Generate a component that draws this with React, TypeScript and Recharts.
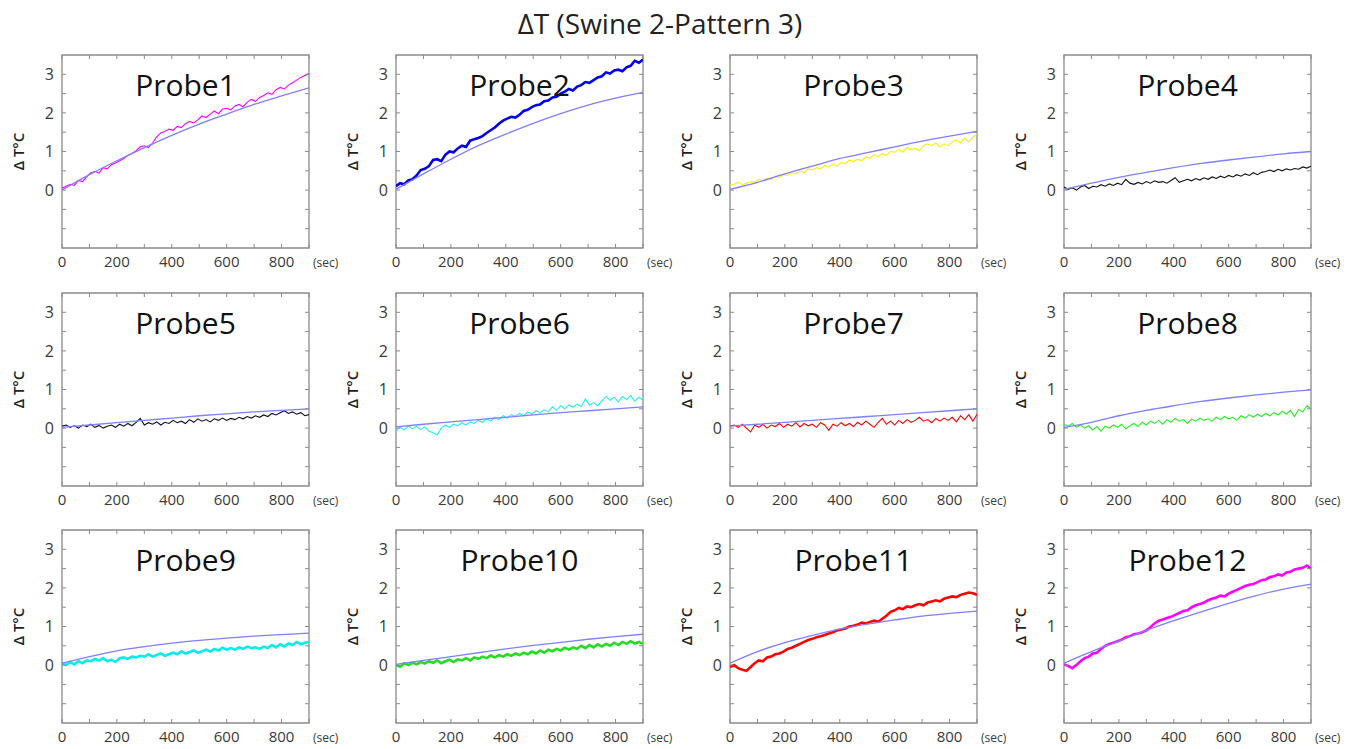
import React from 'react';
import { LineChart, Line, XAxis, YAxis, ReferenceArea } from 'recharts';

// time axis (sec)
const TIME = [0, 15, 30, 45, 60, 75, 90, 105, 120, 135, 150, 165, 180, 195, 210, 225, 240, 255, 270, 285, 300, 315, 330, 345, 360, 375, 390, 405, 420, 435, 450, 465, 480, 495, 510, 525, 540, 555, 570, 585, 600, 615, 630, 645, 660, 675, 690, 705, 720, 735, 750, 765, 780, 795, 810, 825, 840, 855, 870, 885, 900];
const FIT_TIME = [0, 100, 200, 300, 400, 500, 600, 700, 800, 900];

const X_TICKS = [0, 100, 200, 300, 400, 500, 600, 700, 800, 900];
const Y_TICKS = [-1, -0.5, 0, 0.5, 1, 1.5, 2, 2.5, 3];

// measured ΔT per probe
const P1 = [0.05, 0.10, 0.15, 0.12, 0.25, 0.22, 0.35, 0.45, 0.48, 0.44, 0.58, 0.55, 0.66, 0.70, 0.76, 0.82, 0.90, 0.95, 1.02, 1.12, 1.15, 1.10, 1.22, 1.38, 1.48, 1.52, 1.58, 1.55, 1.65, 1.62, 1.72, 1.78, 1.74, 1.82, 1.92, 1.88, 1.97, 2.05, 1.98, 2.10, 2.12, 2.08, 2.18, 2.22, 2.16, 2.28, 2.35, 2.30, 2.40, 2.45, 2.52, 2.48, 2.60, 2.66, 2.62, 2.72, 2.78, 2.85, 2.92, 2.97, 3.02];
const P2 = [0.10, 0.18, 0.15, 0.25, 0.28, 0.38, 0.52, 0.55, 0.62, 0.78, 0.80, 0.75, 0.92, 1.00, 0.98, 1.08, 1.15, 1.12, 1.28, 1.32, 1.35, 1.40, 1.48, 1.55, 1.62, 1.72, 1.80, 1.85, 1.90, 1.88, 1.95, 2.05, 2.08, 2.15, 2.20, 2.22, 2.30, 2.32, 2.40, 2.42, 2.50, 2.55, 2.62, 2.58, 2.68, 2.72, 2.80, 2.78, 2.85, 2.92, 2.95, 3.05, 3.02, 3.10, 3.12, 3.08, 3.18, 3.22, 3.35, 3.30, 3.38];
const P3 = [0.12, 0.15, 0.20, 0.14, 0.18, 0.22, 0.20, 0.28, 0.24, 0.30, 0.28, 0.36, 0.33, 0.40, 0.38, 0.46, 0.42, 0.50, 0.45, 0.55, 0.52, 0.58, 0.55, 0.64, 0.60, 0.68, 0.62, 0.72, 0.68, 0.78, 0.74, 0.80, 0.76, 0.86, 0.82, 0.92, 0.86, 0.95, 0.90, 1.00, 0.98, 1.05, 0.98, 1.10, 1.05, 1.08, 1.02, 1.15, 1.20, 1.15, 1.22, 1.12, 1.20, 1.15, 1.25, 1.30, 1.22, 1.35, 1.25, 1.38, 1.45];
const P4 = [0.08, 0.02, 0.06, 0.00, 0.08, 0.12, 0.04, 0.10, 0.08, 0.14, 0.10, 0.16, 0.12, 0.18, 0.14, 0.28, 0.18, 0.15, 0.20, 0.16, 0.22, 0.18, 0.24, 0.20, 0.22, 0.18, 0.25, 0.32, 0.20, 0.24, 0.28, 0.24, 0.30, 0.26, 0.32, 0.28, 0.34, 0.30, 0.36, 0.32, 0.38, 0.34, 0.40, 0.36, 0.42, 0.38, 0.45, 0.40, 0.46, 0.48, 0.52, 0.48, 0.54, 0.50, 0.55, 0.52, 0.56, 0.54, 0.60, 0.57, 0.62];
const P5 = [0.05, 0.08, 0.02, 0.06, 0.00, 0.08, 0.04, 0.10, 0.02, 0.07, 0.00, 0.05, 0.08, 0.02, 0.10, 0.05, 0.12, 0.06, 0.15, 0.25, 0.08, 0.14, 0.10, 0.16, 0.08, 0.15, 0.12, 0.20, 0.14, 0.18, 0.12, 0.22, 0.15, 0.24, 0.18, 0.22, 0.16, 0.24, 0.20, 0.26, 0.20, 0.25, 0.22, 0.28, 0.24, 0.30, 0.26, 0.32, 0.28, 0.34, 0.30, 0.38, 0.34, 0.40, 0.45, 0.38, 0.42, 0.36, 0.40, 0.32, 0.35];
const P6 = [-0.08, 0.02, -0.05, 0.06, -0.02, 0.05, -0.04, 0.03, -0.08, -0.12, -0.18, 0.00, 0.08, 0.02, 0.10, 0.06, 0.14, 0.08, 0.16, 0.12, 0.20, 0.15, 0.24, 0.18, 0.28, 0.22, 0.32, 0.26, 0.35, 0.30, 0.38, 0.32, 0.42, 0.36, 0.45, 0.40, 0.48, 0.42, 0.55, 0.46, 0.58, 0.50, 0.60, 0.54, 0.62, 0.56, 0.75, 0.60, 0.66, 0.58, 0.70, 0.82, 0.72, 0.80, 0.68, 0.82, 0.74, 0.84, 0.70, 0.80, 0.72];
const P7 = [0.05, 0.08, 0.02, 0.10, 0.00, -0.10, 0.08, 0.02, 0.10, 0.00, 0.08, 0.04, 0.12, 0.02, 0.10, 0.05, 0.14, 0.03, 0.12, 0.06, 0.10, 0.02, 0.14, 0.08, -0.06, 0.10, 0.05, 0.14, 0.06, 0.12, 0.04, 0.15, 0.08, 0.18, 0.10, 0.02, 0.15, 0.25, 0.10, 0.18, 0.08, 0.20, 0.12, 0.22, 0.15, 0.20, 0.28, 0.18, 0.22, 0.14, 0.25, 0.18, 0.26, 0.20, 0.28, 0.16, 0.32, 0.22, 0.35, 0.18, 0.36];
const P8 = [0.10, 0.05, 0.12, 0.02, 0.08, 0.00, 0.06, -0.05, 0.04, -0.08, 0.05, 0.00, 0.08, 0.02, 0.10, -0.02, 0.06, 0.12, 0.04, 0.15, 0.08, 0.18, 0.12, 0.20, 0.10, 0.22, 0.15, 0.25, 0.18, 0.22, 0.12, 0.24, 0.18, 0.26, 0.20, 0.24, 0.18, 0.28, 0.22, 0.30, 0.24, 0.28, 0.20, 0.32, 0.26, 0.35, 0.28, 0.36, 0.30, 0.38, 0.32, 0.40, 0.34, 0.44, 0.36, 0.46, 0.30, 0.48, 0.42, 0.58, 0.50];
const P9 = [0.05, 0.00, 0.08, 0.02, 0.10, 0.05, 0.12, 0.10, 0.16, 0.12, 0.18, 0.10, 0.14, 0.08, 0.18, 0.20, 0.16, 0.22, 0.20, 0.24, 0.22, 0.28, 0.22, 0.26, 0.30, 0.24, 0.28, 0.32, 0.28, 0.36, 0.30, 0.34, 0.38, 0.32, 0.36, 0.40, 0.35, 0.42, 0.38, 0.45, 0.40, 0.44, 0.40, 0.46, 0.42, 0.48, 0.44, 0.46, 0.42, 0.48, 0.44, 0.52, 0.46, 0.54, 0.48, 0.56, 0.52, 0.60, 0.54, 0.58, 0.60];
const P10 = [0.00, -0.04, 0.05, 0.00, 0.06, 0.02, 0.08, 0.04, 0.10, 0.06, 0.12, 0.05, 0.10, 0.14, 0.08, 0.15, 0.12, 0.18, 0.12, 0.20, 0.16, 0.22, 0.18, 0.25, 0.20, 0.26, 0.22, 0.28, 0.24, 0.30, 0.26, 0.32, 0.28, 0.35, 0.30, 0.38, 0.32, 0.40, 0.36, 0.42, 0.38, 0.45, 0.40, 0.46, 0.42, 0.50, 0.44, 0.52, 0.46, 0.54, 0.48, 0.55, 0.50, 0.58, 0.52, 0.60, 0.55, 0.62, 0.56, 0.60, 0.55];
const P11 = [-0.05, 0.00, -0.08, -0.12, -0.15, -0.05, 0.05, 0.12, 0.10, 0.20, 0.22, 0.28, 0.30, 0.35, 0.42, 0.45, 0.50, 0.55, 0.60, 0.65, 0.68, 0.72, 0.75, 0.78, 0.82, 0.85, 0.90, 0.92, 0.95, 1.00, 1.02, 1.05, 1.10, 1.08, 1.12, 1.15, 1.12, 1.20, 1.28, 1.38, 1.42, 1.48, 1.45, 1.52, 1.50, 1.55, 1.58, 1.55, 1.62, 1.65, 1.68, 1.65, 1.72, 1.75, 1.78, 1.76, 1.82, 1.85, 1.88, 1.86, 1.82];
const P12 = [0.02, -0.02, -0.08, 0.00, 0.10, 0.18, 0.22, 0.30, 0.32, 0.42, 0.50, 0.55, 0.58, 0.62, 0.66, 0.72, 0.75, 0.80, 0.82, 0.85, 0.90, 0.98, 1.08, 1.15, 1.18, 1.22, 1.25, 1.30, 1.35, 1.40, 1.42, 1.50, 1.55, 1.58, 1.62, 1.68, 1.72, 1.75, 1.80, 1.78, 1.85, 1.90, 1.95, 2.00, 2.05, 2.08, 2.10, 2.15, 2.20, 2.22, 2.28, 2.30, 2.35, 2.32, 2.40, 2.42, 2.48, 2.50, 2.52, 2.58, 2.50];

// fitted (simulated) curves
const FIT1 = [0.00, 0.40, 0.76, 1.10, 1.42, 1.71, 1.97, 2.22, 2.44, 2.65];
const FIT2 = [0.02, 0.42, 0.80, 1.15, 1.45, 1.73, 1.98, 2.20, 2.38, 2.53];
const FIT3 = [0.02, 0.20, 0.42, 0.62, 0.82, 0.97, 1.12, 1.27, 1.40, 1.52];
const FIT4 = [0.02, 0.18, 0.33, 0.46, 0.58, 0.69, 0.78, 0.86, 0.94, 1.00];
const FIT5 = [0.02, 0.08, 0.14, 0.20, 0.26, 0.32, 0.37, 0.42, 0.46, 0.50];
const FIT6 = [0.03, 0.10, 0.16, 0.22, 0.28, 0.34, 0.40, 0.45, 0.50, 0.55];
const FIT7 = [0.05, 0.10, 0.15, 0.20, 0.25, 0.30, 0.35, 0.40, 0.45, 0.50];
const FIT8 = [0.02, 0.15, 0.32, 0.46, 0.58, 0.69, 0.78, 0.86, 0.93, 0.99];
const FIT9 = [0.05, 0.22, 0.37, 0.48, 0.57, 0.64, 0.70, 0.75, 0.79, 0.83];
const FIT10 = [0.02, 0.12, 0.22, 0.32, 0.42, 0.51, 0.59, 0.67, 0.74, 0.80];
const FIT11 = [0.05, 0.35, 0.58, 0.77, 0.93, 1.06, 1.17, 1.27, 1.34, 1.40];
const FIT12 = [0.05, 0.35, 0.62, 0.90, 1.15, 1.38, 1.60, 1.80, 1.97, 2.10];

const PROBE_NAMES = ['Probe1', 'Probe2', 'Probe3', 'Probe4', 'Probe5', 'Probe6', 'Probe7', 'Probe8', 'Probe9', 'Probe10', 'Probe11', 'Probe12'];
const MEASURED = [P1, P2, P3, P4, P5, P6, P7, P8, P9, P10, P11, P12];
const FITS = [FIT1, FIT2, FIT3, FIT4, FIT5, FIT6, FIT7, FIT8, FIT9, FIT10, FIT11, FIT12];
const COLORS = ['#ff00ff', '#0000ee', '#ffee00', '#111111', '#111111', '#22eef2', '#ff0000', '#22ee22', '#00eeee', '#22dd22', '#ff0000', '#ff00ff'];
const WIDTHS = [1.1, 2.6, 1.1, 1.1, 1.1, 1.1, 1.1, 1.1, 2.6, 2.6, 2.6, 2.6];

const FIT_COLOR = '#7f7fff';
const FRAME = '#8a8a8a';
const FONT = '"Open Sans", "Noto Sans", sans-serif';

const PLOT_W = 247;
const PLOT_H = 193;
const Y_AXIS_W = 62;
const TOP_M = 5;
const RIGHT_M = 42;
const X_AXIS_H = 30;
const COL_X = [62, 396, 730, 1064];
const ROW_Y = [55, 293, 530];

function XTick(props: any) {
  const { x, y, payload } = props;
  const v = payload.value;
  return (
    <g>
      <line x1={x} x2={x} y1={y} y2={y - 4} stroke={FRAME} strokeWidth={1} />
      <line x1={x} x2={x} y1={y - PLOT_H} y2={y - PLOT_H + 4} stroke={FRAME} strokeWidth={1} />
      {v % 200 === 0 && (
        <text x={x} y={y + 14} dy="0.35em" textAnchor="middle" fontSize={15} fill="#3a3a3a" fontFamily={FONT}>
          {v}
        </text>
      )}
    </g>
  );
}

function YTick(props: any) {
  const { x, y, payload } = props;
  const v = payload.value;
  return (
    <g>
      <line x1={x} x2={x + 4} y1={y} y2={y} stroke={FRAME} strokeWidth={1} />
      <line x1={x + PLOT_W - 4} x2={x + PLOT_W} y1={y} y2={y} stroke={FRAME} strokeWidth={1} />
      {Number.isInteger(v) && v >= 0 && (
        <text x={x - 8} y={y} dy="0.35em" textAnchor="end" fontSize={16} fill="#3a3a3a" fontFamily={FONT}>
          {v}
        </text>
      )}
    </g>
  );
}

function Panel({ idx }: { idx: number }) {
  const col = idx % 4;
  const row = Math.floor(idx / 4);
  const measured = TIME.map((t, i) => ({ t, v: MEASURED[idx][i] }));
  const fit = FIT_TIME.map((t, i) => ({ t, f: FITS[idx][i] }));
  const w = Y_AXIS_W + PLOT_W + RIGHT_M;
  const h = TOP_M + PLOT_H + X_AXIS_H;
  return (
    <div style={{ position: 'absolute', left: COL_X[col] - Y_AXIS_W, top: ROW_Y[row] - TOP_M, width: w, height: h }}>
      <LineChart width={w} height={h} margin={{ top: TOP_M, right: RIGHT_M, bottom: 0, left: 0 }}>
        <XAxis
          type="number"
          dataKey="t"
          domain={[0, 900]}
          ticks={X_TICKS}
          interval={0}
          allowDataOverflow
          tickLine={false}
          axisLine={false}
          tickSize={0}
          tickMargin={0}
          height={X_AXIS_H}
          tick={<XTick />}
          label={{ value: '(sec)', position: 'right', offset: 4, fontSize: 12, fill: '#3a3a3a', fontFamily: FONT }}
        />
        <YAxis
          type="number"
          domain={[-1.5, 3.5]}
          ticks={Y_TICKS}
          interval={0}
          allowDataOverflow
          tickLine={false}
          axisLine={false}
          tickSize={0}
          tickMargin={0}
          width={Y_AXIS_W}
          tick={<YTick />}
          label={{
            value: 'Δ T°C',
            angle: -90,
            position: 'insideLeft',
            offset: 19,
            fontSize: 15,
            fontWeight: 600,
            fill: '#222',
            fontFamily: FONT,
            style: { textAnchor: 'middle' },
          }}
        />
        <ReferenceArea
          x1={0}
          x2={900}
          y1={-1.5}
          y2={3.5}
          fill="none"
          fillOpacity={0}
          stroke={FRAME}
          strokeWidth={1.3}
          label={{ value: PROBE_NAMES[idx], position: 'insideTop', offset: 20, fontSize: 30, fill: '#111', fontFamily: FONT }}
        />
        <Line
          data={measured}
          dataKey="v"
          type="linear"
          stroke={COLORS[idx]}
          strokeWidth={WIDTHS[idx]}
          dot={false}
          isAnimationActive={false}
        />
        <Line
          data={fit}
          dataKey="f"
          type="monotone"
          stroke={FIT_COLOR}
          strokeWidth={1.3}
          dot={false}
          isAnimationActive={false}
        />
      </LineChart>
    </div>
  );
}

export default function App() {
  return (
    <div style={{ position: 'absolute', left: 0, top: 0, width: 1358, height: 749, background: '#fff', overflow: 'hidden' }}>
      <div
        style={{
          position: 'absolute',
          left: 0,
          top: 5,
          width: 1320,
          textAlign: 'center',
          fontFamily: FONT,
          fontSize: 28,
          color: '#222',
          lineHeight: '36px',
        }}
      >
        ΔT (Swine 2-Pattern 3)
      </div>
      {PROBE_NAMES.map((_, i) => (
        <Panel key={i} idx={i} />
      ))}
    </div>
  );
}
